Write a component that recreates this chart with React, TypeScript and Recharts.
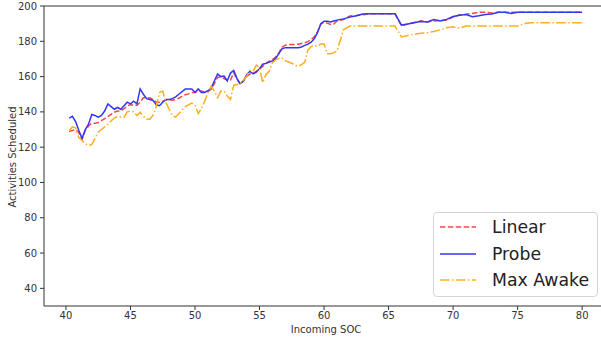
import { LineChart, Line, XAxis, YAxis, Legend, ReferenceLine } from 'recharts'

// incoming SOC values (x)
const soc = [
  40.25, 40.5, 40.75, 41, 41.25, 41.5, 41.75, 42, 42.25, 42.5, 42.75, 43,
  43.25, 43.5, 43.75, 44, 44.25, 44.5, 44.75, 45, 45.25, 45.5, 45.75, 46,
  46.25, 46.5, 46.75, 47, 47.25, 47.5, 47.75, 48, 48.25, 48.5, 48.75, 49,
  49.25, 49.5, 49.75, 50, 50.25, 50.5, 50.75, 51, 51.25, 51.5, 51.75, 52,
  52.25, 52.5, 52.75, 53, 53.25, 53.5, 53.75, 54, 54.25, 54.5, 54.75, 55,
  55.25, 55.5, 55.75, 56, 56.25, 56.5, 56.75, 57, 57.25, 57.5, 57.75, 58,
  58.25, 58.5, 58.75, 59, 59.25, 59.5, 59.75, 60, 60.25, 60.5, 60.75, 61,
  61.5, 62, 62.5, 63, 63.5, 64, 64.5, 65, 65.5, 66, 66.5, 67,
  67.5, 68, 68.5, 69, 69.5, 70, 70.5, 71, 71.5, 72, 72.5, 73,
  73.5, 74, 74.5, 75, 75.5, 76, 76.5, 77, 77.5, 78, 78.5, 79,
  79.5, 80,
]

const linear = [
  128.8, 129.5, 130, 128.2, 124.5, 129.5, 132, 133.5, 133.5, 134, 135, 136.2,
  137.3, 138.6, 139.8, 140.5, 140.5, 141.8, 143.3, 144.2, 143.6, 143.8, 145.5, 148,
  148, 148, 147, 145.5, 145.5, 146, 146.7, 147, 146.6, 147, 147.7, 149,
  149.7, 150.2, 150.8, 151.2, 151.5, 151.8, 151.2, 151.5, 152.8, 156, 159.5, 160,
  158.9, 158, 158, 162.2, 158.5, 155.6, 157.5, 160, 161.5, 162, 163, 164.3,
  165.8, 167.5, 168.8, 169.6, 171, 173.5, 176.8, 177.8, 178.2, 178.2, 178.2, 178.3,
  178.7, 179.2, 179.8, 181, 182.5, 185.5, 189.8, 190.9, 190.3, 189.5, 189.8, 191.5,
  192.3, 194.3, 194.6, 195, 195.6, 195.6, 195.6, 195.6, 195.6, 188.8, 189.8, 190.5,
  191.6, 191, 191.5, 191.8, 192, 193.7, 195, 195.3, 195.8, 196.5, 196.5, 196,
  196.5, 196.5, 196.5, 196.5, 196.5, 196.5, 196.5, 196.5, 196.5, 196.5, 196.5, 196.5,
  196.5, 196.5,
]

const probe = [
  136.5, 137.5, 134.5, 129.5, 125, 130, 133, 138.5, 138, 137, 138, 140.5,
  144.5, 143, 141.5, 142.5, 141.5, 143.5, 145.5, 144.5, 146, 144.5, 153, 150,
  147.5, 147, 146.5, 144, 143.5, 145.5, 147, 147, 147.5, 148.5, 150, 151.5,
  153, 153, 153, 151, 153, 151, 151, 152, 153.5, 157.5, 161.5, 160,
  160.3, 157.5, 162, 163.5, 159, 156, 157.5, 161, 163, 161.5, 162.5, 164.5,
  167, 167.5, 168.2, 168.8, 170.3, 173, 175.8, 176.4, 176.4, 176.4, 176.4, 176.4,
  176.8, 177.7, 178.4, 179.5, 181.5, 185, 190, 191.4, 191.4, 190.9, 191.5, 192,
  192.7, 193.7, 194.5, 195.4, 195.6, 195.6, 195.6, 195.6, 195.6, 189.2, 189.8, 190.7,
  191.2, 190.9, 192.3, 191.5, 192.4, 194, 194.8, 195.2, 193.9, 194.5, 195.2, 195.5,
  196.5, 196.5, 195.8, 196.5, 196.5, 196.5, 196.5, 196.5, 196.5, 196.5, 196.5, 196.5,
  196.5, 196.5,
]

const maxAwake = [
  129.5, 131.5, 131, 125.4, 123.8, 122, 121, 121.5, 125, 128.5, 130, 131.5,
  133, 134.8, 136.5, 137.6, 137, 137, 140, 140.5, 140, 138, 139.7, 137.5,
  136, 135.8, 138, 143, 151, 151.8, 145.2, 141.5, 138, 137, 139, 141,
  143, 144, 145, 144, 139, 142, 146, 150.9, 154.5, 151.8, 148, 151.8,
  151.8, 149, 147, 155, 155.5, 156, 158, 160, 163.5, 163, 166.5, 165,
  156.5, 161.2, 163, 167.9, 169.5, 170.3, 170.5, 169, 168.3, 167.6, 166.3, 166,
  166.8, 168, 175, 177, 177.6, 177.3, 178.5, 178.5, 173, 173, 173.6, 174.4,
  186.5, 188.6, 188.6, 188.6, 188.6, 188.6, 188.6, 188.6, 188.6, 182.5, 183.3, 184,
  184.5, 184.9, 185.6, 186.5, 187.7, 188.2, 187.5, 188.6, 188.6, 188.6, 188.6, 188.6,
  188.6, 188.6, 188.6, 188.6, 190, 190.5, 190.5, 190.5, 190.5, 190.5, 190.5, 190.5,
  190.5, 190.5,
]

const xTicks = [40, 45, 50, 55, 60, 65, 70, 75, 80]
const yTicks = [40, 60, 80, 100, 120, 140, 160, 180, 200]
const legendOrder = ['Linear', 'Probe', 'Max Awake']

const rows = soc.map((s, i) => ({
  soc: s,
  linear: linear[i],
  probe: probe[i],
  maxAwake: maxAwake[i],
}))

const FONT = '"DejaVu Sans", sans-serif'
const AXIS = '#333'

function LegendBox({ payload }: any) {
  const items = [...(payload || [])].sort(
    (a: any, b: any) => legendOrder.indexOf(a.value) - legendOrder.indexOf(b.value)
  )
  return (
    <div
      style={{
        boxSizing: 'border-box',
        width: 165,
        height: 85,
        border: '1px solid #d5d5d5',
        borderRadius: 4,
        background: '#fff',
        paddingTop: 1,
        fontFamily: FONT,
        fontSize: 17.3,
        color: '#222',
      }}
    >
      {items.map((p: any) => (
        <div key={p.value} style={{ display: 'flex', alignItems: 'center', height: 26.5 }}>
          <svg width={36} height={10} style={{ marginLeft: 6, marginRight: 16 }}>
            <line
              x1={0}
              y1={5}
              x2={36}
              y2={5}
              stroke={p.color}
              strokeWidth={1.5}
              strokeDasharray={p.payload?.strokeDasharray}
            />
          </svg>
          <span>{p.value}</span>
        </div>
      ))}
    </div>
  )
}

export default function App() {
  return (
    <div
      style={{
        position: 'absolute',
        left: 0,
        top: 0,
        width: 601,
        height: 341,
        overflow: 'hidden',
        background: '#fff',
      }}
    >
      <LineChart width={601} height={341} data={rows} margin={{ top: 6, right: 0, bottom: 0, left: 0 }}>
        <XAxis
          type="number"
          dataKey="soc"
          domain={[38.3, 81.46]}
          ticks={xTicks}
          allowDataOverflow
          height={35}
          tickSize={4}
          tickMargin={2}
          stroke={AXIS}
          tick={{ fontSize: 10, fill: AXIS, fontFamily: FONT }}
          label={() => (
            <text x={326} y={333} textAnchor="middle" fontSize={10} fill={AXIS} fontFamily={FONT}>
              Incoming SOC
            </text>
          )}
        />
        <YAxis
          type="number"
          domain={[30, 200]}
          ticks={yTicks}
          allowDataOverflow
          width={44}
          tickSize={4}
          tickMargin={3}
          stroke={AXIS}
          tick={{ fontSize: 10, fill: AXIS, fontFamily: FONT }}
          label={() => (
            <text
              x={12}
              y={157}
              transform="rotate(-90 12 157)"
              textAnchor="middle"
              dominantBaseline="central"
              fontSize={10}
              fill={AXIS}
              fontFamily={FONT}
            >
              Activities Scheduled
            </text>
          )}
        />
        <ReferenceLine y={200} stroke={AXIS} />
        <Line
          type="linear"
          dataKey="linear"
          name="Linear"
          stroke="#f04848"
          strokeWidth={1.5}
          strokeDasharray="5.5 2.4"
          dot={false}
          isAnimationActive={false}
        />
        <Line
          type="linear"
          dataKey="probe"
          name="Probe"
          stroke="#3535f5"
          strokeWidth={1.5}
          dot={false}
          isAnimationActive={false}
        />
        <Line
          type="linear"
          dataKey="maxAwake"
          name="Max Awake"
          stroke="#ffad1f"
          strokeWidth={1.5}
          strokeDasharray="9.6 2.4 1.5 2.4"
          dot={false}
          isAnimationActive={false}
        />
        <Legend
          layout="vertical"
          align="center"
          verticalAlign="middle"
          content={LegendBox}
          wrapperStyle={{ left: 433, top: 212, width: 165, height: 85 }}
        />
      </LineChart>
    </div>
  )
}
